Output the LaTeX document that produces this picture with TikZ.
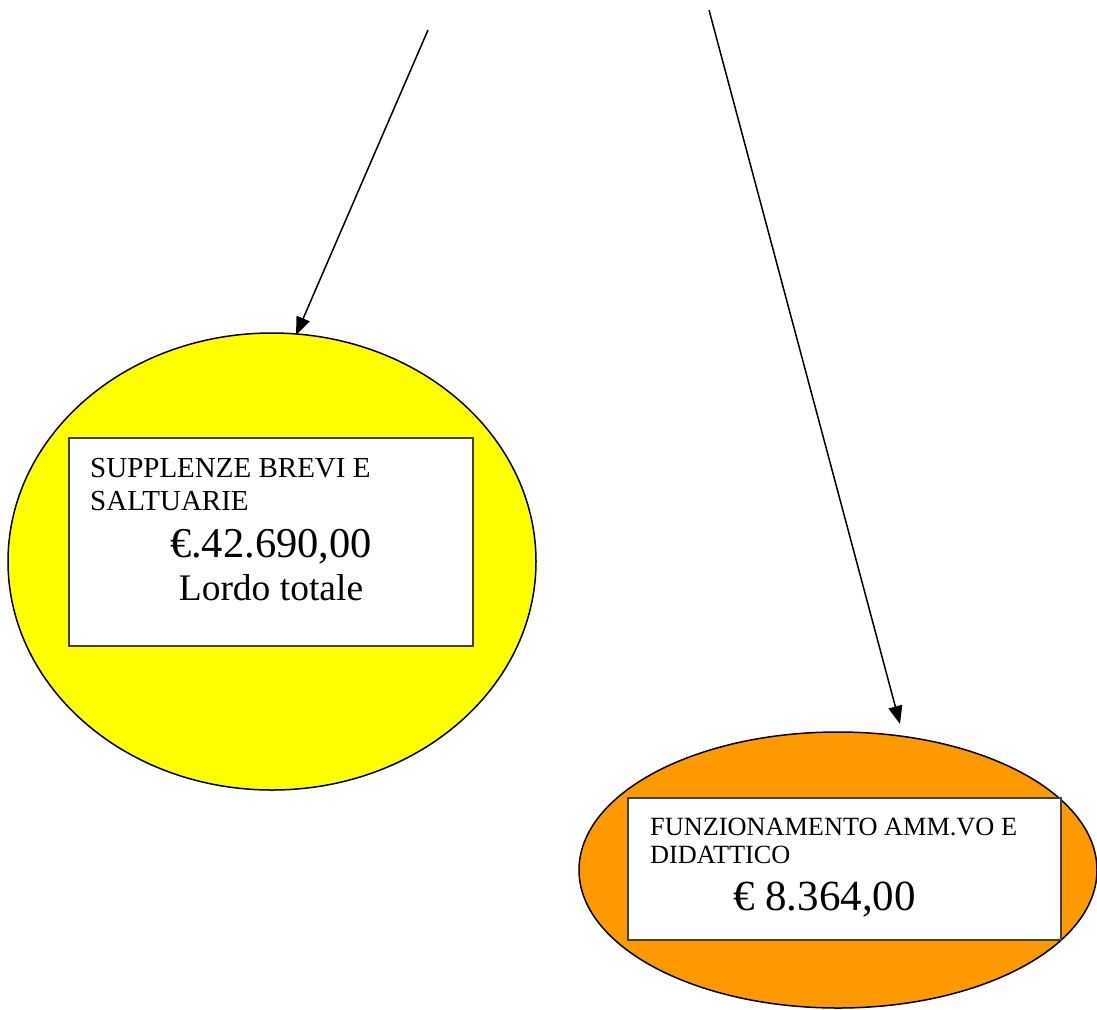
\documentclass[tikz,border=0pt]{standalone}
\usepackage{fontspec}
\setmainfont{Liberation Serif}
\usetikzlibrary{shapes.geometric,arrows.meta}
\definecolor{yel}{HTML}{FFFF00}
\definecolor{ora}{HTML}{FF9900}
\begin{document}
\begin{tikzpicture}[x=1pt,y=-1pt,
  blob/.style={ellipse,draw=black,line width=1.5pt,inner sep=0pt},
  panel/.style={draw=black!75,line width=1.5pt,fill=white},
  conn/.style={line width=1.5pt,-{Triangle[length=18pt,width=14pt]}},
  lbl/.style={inner sep=0pt,anchor=base west}]
\useasboundingbox (0,0) rectangle (1097,1009);
% ellipses
\node[blob,fill=yel,minimum width=528pt,minimum height=457pt] (yellip) at (272,561.5) {};
\node[blob,fill=ora,minimum width=518pt,minimum height=276pt] (oellip) at (838,870) {};
% panels
\draw[panel] (69,438) rectangle (473,646);
\draw[panel] (628,798) rectangle (1061,940);
% texts
\node[lbl,font=\fontsize{29}{33}\selectfont] (t1) at (90,477) {SUPPLENZE BREVI E};
\node[lbl,font=\fontsize{29}{33}\selectfont] (t2) at (90,510) {SALTUARIE};
\node[inner sep=0pt,anchor=base,font=\fontsize{42.5}{48}\selectfont] (t3) at (271,557) {€.42.690,00};
\node[inner sep=0pt,anchor=base,font=\fontsize{37.5}{44}\selectfont] (t4) at (271,600) {Lordo totale};
\node[lbl,font=\fontsize{26.3}{30}\selectfont] (u1) at (650,835) {FUNZIONAMENTO AMM.VO E};
\node[lbl,font=\fontsize{26.3}{30}\selectfont] (u2) at (650,863) {DIDATTICO};
\node[lbl,font=\fontsize{43}{48}\selectfont] (u3) at (733,910) {€ 8.364,00};
% connectors
\coordinate (s1) at (428,30);
\coordinate (e1) at (296,335);
\coordinate (s2) at (709,10);
\coordinate (e2) at (900,724);
\draw[conn] (s1) -- (e1);
\draw[conn] (s2) -- (e2);
\end{tikzpicture}
\end{document}
